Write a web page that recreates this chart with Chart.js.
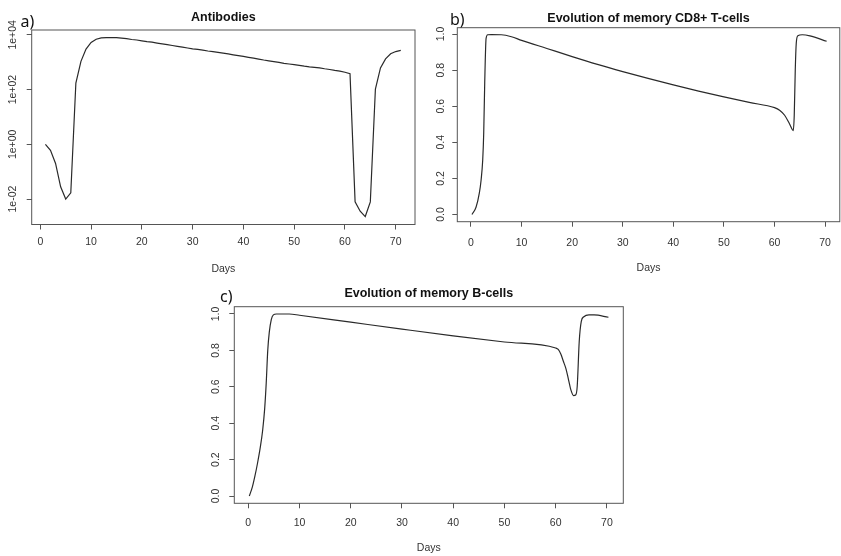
<!DOCTYPE html>
<html>
<head>
<meta charset="utf-8">
<script src="https://cdn.jsdelivr.net/npm/chart.js@4.4.1/dist/chart.umd.min.js"></script>
<style>
body { margin: 0; background: #fff; }
#wrap { position: relative; width: 841px; height: 556px; }
canvas { position: absolute; }
</style>
</head>
<body>
<div id="wrap">
  <canvas id="chartA" width="420" height="280" style="left:0;top:0"></canvas>
  <canvas id="chartB" width="421" height="280" style="left:420px;top:0"></canvas>
  <canvas id="chartC" width="440" height="276" style="left:190px;top:280px"></canvas>
</div>
<script>
// x ticks shared by all three panels
var dayTicks = [0, 10, 20, 30, 40, 50, 60, 70];

// a) Antibodies (log scale), one value per day
var abDays = [1, 2, 3, 4, 5, 6, 7, 8, 9, 10, 11, 12, 13, 14, 15, 16, 17, 18, 19, 20,
  21, 22, 23, 24, 25, 26, 27, 28, 29, 30, 31, 32, 33, 34, 35, 36, 37, 38, 39, 40,
  41, 42, 43, 44, 45, 46, 47, 48, 49, 50, 51, 52, 53, 54, 55, 56, 57, 58, 59, 60,
  61, 62, 63, 64, 65, 66, 67, 68, 69, 70, 71];
var abValues = [1, 0.6, 0.2, 0.028, 0.01, 0.017, 174, 1070, 3000, 5250, 6900, 7760, 7940, 7940, 7940, 7590, 7240, 6760, 6460, 6030,
  5620, 5370, 5010, 4680, 4370, 4070, 3800, 3550, 3310, 3090, 2920, 2750, 2570, 2430, 2290, 2140, 2000, 1860, 1740, 1620,
  1510, 1410, 1300, 1200, 1120, 1050, 980, 910, 860, 810, 770, 720, 680, 650, 620, 575, 540, 500, 470, 430,
  380, 0.0079, 0.0036, 0.0023, 0.0079, 105, 620, 1320, 2040, 2450, 2690];
var abTicks = [0.01, 1, 100, 10000];
var abTickLabels = ['1e-02', '1e+00', '1e+02', '1e+04'];

// b) memory CD8+ T-cells
var cd8Days = [0.2, 1.0, 1.66, 2.0, 2.32, 2.52, 2.72, 2.99, 3.32, 4, 6, 8, 10, 15, 20, 25, 30, 35, 40, 45,
  50, 55, 60, 61, 62, 63, 63.7, 63.9, 64.1, 64.3, 64.6, 65.5, 67, 70.3];
var cd8Values = [0, 0.04, 0.12, 0.19, 0.3, 0.45, 0.73, 0.976, 0.996, 0.997, 0.996, 0.985, 0.965, 0.92, 0.875, 0.832, 0.792, 0.754, 0.718, 0.684,
  0.652, 0.621, 0.592, 0.578, 0.55, 0.5, 0.465, 0.55, 0.8, 0.95, 0.99, 0.996, 0.99, 0.96];

// c) memory B-cells
var bDays = [0.2, 0.8, 1.3, 1.8, 2.3, 2.8, 3.2, 3.5, 3.8, 4.1, 4.5, 4.9, 5.5, 8, 10, 20, 30, 40, 50, 60,
  60.5, 61, 61.5, 62, 62.5, 63, 63.5, 63.9, 64.2, 64.6, 65.0, 65.5, 66.5, 67.5, 70.3];
var bValues = [0, 0.05, 0.11, 0.18, 0.26, 0.36, 0.48, 0.62, 0.8, 0.9, 0.97, 0.995, 1.0, 1.0, 0.993, 0.955, 0.917, 0.88, 0.846, 0.813,
  0.805, 0.78, 0.74, 0.70, 0.64, 0.58, 0.552, 0.555, 0.6, 0.85, 0.96, 0.985, 0.995, 0.995, 0.982];
var fracTicks = [0, 0.2, 0.4, 0.6, 0.8, 1.0];

var inkText = '#333';
var inkBox = '#555';
var inkLine = '#2a2a2a';

Chart.defaults.font.family = '"Liberation Sans", Arial, sans-serif';
Chart.defaults.font.size = 10.5;
Chart.defaults.color = inkText;

// R style box round the plot region + the panel letter
Chart.register({
  id: 'rbox',
  afterDraw: function (chart, args, opts) {
    var a = chart.chartArea, c = chart.ctx;
    c.save();
    c.strokeStyle = inkBox;
    c.lineWidth = 1;
    c.strokeRect(a.left, a.top, a.right - a.left, a.bottom - a.top);
    c.font = '16px "Noto Sans", sans-serif';
    c.fillStyle = '#111';
    c.textBaseline = 'alphabetic';
    c.fillText(opts.tag, opts.x, opts.y);
    c.restore();
  }
});

function points(xs, ys) {
  return xs.map(function (x, i) { return { x: x, y: ys[i] }; });
}

function setTicks(list) {
  return function (scale) {
    scale.ticks = list.map(function (v) { return { value: v }; });
  };
}

var tickGrid = { display: true, drawOnChartArea: false, drawTicks: true, tickLength: 5, color: inkBox };

function xAxis(min, max, height, pad, titlePad) {
  return {
    type: 'linear', min: min, max: max,
    afterBuildTicks: setTicks(dayTicks),
    afterFit: function (s) { s.height = height; },
    grid: tickGrid,
    border: { display: false },
    ticks: { autoSkip: false, maxRotation: 0, padding: pad, callback: function (v) { return v; } },
    title: { display: true, text: 'Days', font: { size: 10.5 }, padding: { top: 0, bottom: titlePad } }
  };
}

function yAxis(type, min, max, list, labelFn, width, pad) {
  return {
    type: type, min: min, max: max,
    afterBuildTicks: setTicks(list),
    afterFit: function (s) { s.width = width; },
    grid: tickGrid,
    border: { display: false },
    ticks: { autoSkip: false, minRotation: 90, maxRotation: 90, crossAlign: 'center', padding: pad, callback: labelFn }
  };
}

function makeChart(id, cfg) {
  return new Chart(document.getElementById(id), {
    type: 'line',
    data: {
      datasets: [{
        data: points(cfg.xs, cfg.ys),
        borderColor: inkLine,
        borderWidth: 1.2,
        pointRadius: 0,
        fill: false,
        tension: cfg.smooth ? 0.4 : 0,
        cubicInterpolationMode: cfg.smooth ? 'monotone' : 'default'
      }]
    },
    options: {
      responsive: false,
      animation: false,
      events: [],
      layout: { padding: { left: 0, right: cfg.padRight, top: 0, bottom: 0 } },
      scales: { x: cfg.x, y: cfg.y },
      plugins: {
        legend: { display: false },
        tooltip: { enabled: false },
        title: {
          display: true, text: cfg.title, fullSize: false, color: '#111',
          font: { size: 12.5, weight: 'bold' },
          padding: cfg.titlePad
        },
        rbox: cfg.tag
      }
    }
  });
}

makeChart('chartA', {
  xs: abDays, ys: abValues, smooth: false,
  title: 'Antibodies', titlePad: { top: 10.5, bottom: 4.5 },
  padRight: 5,
  x: xAxis(-1.7, 73.8, 55.5, 6.7, 4.4),
  y: yAxis('logarithmic', 0.00118, 15000, abTicks,
    function (v, i) { return abTickLabels[i]; }, 31.7, -1),
  tag: { tag: 'a)', x: 20.5, y: 26.5 }
});

makeChart('chartB', {
  xs: cd8Days, ys: cd8Values, smooth: true,
  title: 'Evolution of memory CD8+ T-cells', titlePad: { top: 10.8, bottom: 1.9 },
  padRight: 0.5,
  x: xAxis(-2.7, 72.9, 58.3, 10, 6),
  y: yAxis('linear', -0.04, 1.035, fracTicks,
    function (v) { return v.toFixed(1); }, 37.3, 3.5),
  tag: { tag: 'b)', x: 30, y: 25 }
});

makeChart('chartC', {
  xs: bDays, ys: bValues, smooth: true,
  title: 'Evolution of memory B-cells', titlePad: { top: 5.8, bottom: 5.9 },
  padRight: 6.7,
  x: xAxis(-2.73, 73.2, 52.7, 8.7, 1.4),
  y: yAxis('linear', -0.04, 1.04, fracTicks,
    function (v) { return v.toFixed(1); }, 44.3, 5.5),
  tag: { tag: 'c)', x: 30, y: 21.7 }
});
</script>
</body>
</html>
